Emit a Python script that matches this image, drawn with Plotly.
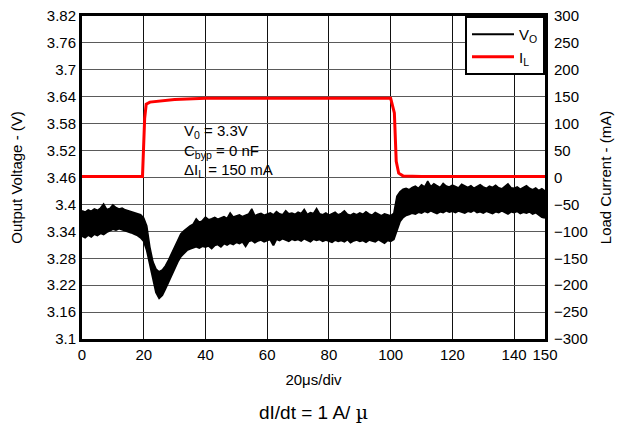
import plotly.graph_objects as go

# Time axis (20 us/div) and output-voltage band
t_vo = list(range(0, 151))
vo_upper = [
    3.386, 3.383, 3.388, 3.385, 3.390, 3.387, 3.392, 3.401, 3.389, 3.391,
    3.399, 3.393, 3.390, 3.392, 3.388, 3.386, 3.384, 3.381, 3.379, 3.377,
    3.370, 3.352, 3.305, 3.272, 3.256, 3.250, 3.254, 3.263, 3.276, 3.290,
    3.306, 3.321, 3.334, 3.341, 3.347, 3.352, 3.356, 3.368, 3.360, 3.364,
    3.372, 3.366, 3.368, 3.371, 3.367, 3.370, 3.373, 3.369, 3.381, 3.372,
    3.374, 3.377, 3.373, 3.376, 3.379, 3.390, 3.375, 3.378, 3.380, 3.376,
    3.378, 3.381, 3.377, 3.384, 3.379, 3.377, 3.386, 3.379, 3.381, 3.378,
    3.383, 3.380, 3.389, 3.378, 3.382, 3.380, 3.391, 3.379, 3.377, 3.381,
    3.376, 3.379, 3.383, 3.377, 3.380, 3.386, 3.378, 3.376, 3.380, 3.377,
    3.381, 3.378, 3.384, 3.379, 3.376, 3.382, 3.378, 3.375, 3.379, 3.377,
    3.375, 3.380, 3.418, 3.428, 3.434, 3.436, 3.433, 3.438, 3.441, 3.436,
    3.444, 3.439, 3.452, 3.440, 3.446, 3.442, 3.438, 3.447, 3.441, 3.439,
    3.443, 3.440, 3.437, 3.445, 3.441, 3.438, 3.442, 3.436, 3.440, 3.444,
    3.439, 3.436, 3.441, 3.438, 3.443, 3.437, 3.435, 3.440, 3.446, 3.437,
    3.436, 3.439, 3.434, 3.438, 3.442, 3.436, 3.433, 3.437, 3.431, 3.435,
    3.430,
]
vo_lower = [
    3.330, 3.326, 3.332, 3.328, 3.334, 3.331, 3.336, 3.333, 3.338, 3.342,
    3.345, 3.343, 3.346, 3.344, 3.342, 3.340, 3.337, 3.334, 3.331, 3.326,
    3.318, 3.298, 3.265, 3.232, 3.204, 3.191, 3.198, 3.212, 3.228, 3.243,
    3.258, 3.272, 3.284, 3.292, 3.298, 3.301, 3.304, 3.306, 3.303, 3.307,
    3.305, 3.308, 3.302, 3.309, 3.311, 3.306, 3.313, 3.310, 3.314, 3.311,
    3.316, 3.313, 3.317, 3.307, 3.318, 3.320, 3.315, 3.319, 3.321, 3.317,
    3.320, 3.322, 3.309, 3.323, 3.320, 3.324, 3.321, 3.318, 3.323, 3.320,
    3.322, 3.319, 3.324, 3.321, 3.317, 3.323, 3.320, 3.322, 3.318, 3.321,
    3.319, 3.316, 3.321, 3.318, 3.320, 3.317, 3.322, 3.315, 3.319, 3.321,
    3.318, 3.320, 3.316, 3.321, 3.319, 3.317, 3.322, 3.318, 3.314, 3.320,
    3.318, 3.322, 3.342, 3.362, 3.371, 3.376, 3.378, 3.381, 3.379, 3.383,
    3.381, 3.385, 3.382, 3.386, 3.383, 3.380, 3.384, 3.382, 3.386, 3.383,
    3.385, 3.382, 3.386, 3.384, 3.381, 3.385, 3.383, 3.387, 3.382, 3.384,
    3.381, 3.385, 3.383, 3.380, 3.384, 3.382, 3.386, 3.383, 3.379, 3.384,
    3.382, 3.385, 3.380, 3.383, 3.381, 3.384, 3.379, 3.382, 3.377, 3.372,
    3.370,
]

# Load current step (mA)
t_il = [0, 19.6, 20.3, 20.8, 22, 25, 30, 40, 100, 101.2, 101.8, 102.6, 104, 110, 150]
il_ma = [2, 2, 110, 136, 140, 142, 145, 147, 147, 120, 30, 8, 3, 2, 2]

# Axes
v_ticks = [3.1, 3.16, 3.22, 3.28, 3.34, 3.4, 3.46, 3.52, 3.58, 3.64, 3.7, 3.76, 3.82]
v_labels = ["3.1", "3.16", "3.22", "3.28", "3.34", "3.4", "3.46", "3.52",
            "3.58", "3.64", "3.7", "3.76", "3.82"]
i_ticks = [-300, -250, -200, -150, -100, -50, 0, 50, 100, 150, 200, 250, 300]
t_ticks = [0, 20, 40, 60, 80, 100, 120, 140, 150]

FONT = "Arial, Liberation Sans, sans-serif"

fig = go.Figure()

# V_O band: lower edge carries the legend entry, upper edge fills down to it
fig.add_trace(go.Scatter(
    x=t_vo, y=vo_lower, mode="lines", name="V<sub>O</sub>",
    line=dict(color="black", width=2),
))
fig.add_trace(go.Scatter(
    x=t_vo, y=vo_upper, mode="lines", showlegend=False,
    line=dict(color="black", width=1.5), fill="tonexty", fillcolor="black",
))
fig.add_trace(go.Scatter(
    x=t_il, y=il_ma, mode="lines", name="I<sub>L</sub>", yaxis="y2",
    line=dict(color="#ff0000", width=3),
))

fig.add_annotation(
    x=32.3, y=3.588, xref="x", yref="y", xanchor="left", yanchor="top",
    align="left", showarrow=False,
    text="V<sub>0</sub> = 3.3V<br>C<sub>byp</sub> = 0 nF<br>ΔI<sub>L</sub> = 150 mA",
    font=dict(family=FONT, size=15, color="black"),
)
fig.add_annotation(
    x=0.5, y=-0.185, xref="paper", yref="paper", xanchor="center", yanchor="top",
    showarrow=False,
    text='dI/dt = 1 A/ <span style="font-family:DejaVu Serif, serif">µ</span>',
    font=dict(family=FONT, size=19, color="black"),
)

# the page body adds an 8px margin, so the figure is 8px smaller and shifted
fig.update_layout(
    width=617, height=416,
    margin=dict(l=74, r=80, t=8, b=85, autoexpand=False),
    paper_bgcolor="white", plot_bgcolor="white",
    font=dict(family=FONT, size=15, color="black"),
    showlegend=True,
    legend=dict(
        x=1, y=1, xanchor="right", yanchor="top", traceorder="normal",
        bgcolor="white", bordercolor="black", borderwidth=2,
        font=dict(size=15), tracegroupgap=0, itemwidth=42,
    ),
    xaxis=dict(
        range=[0, 150], tickvals=t_ticks, showgrid=True, gridcolor="#111111",
        gridwidth=1, showline=True, linecolor="black", linewidth=3, mirror=True,
        zeroline=False, ticks="", automargin=False, ticklabeloverflow="allow",
        title=dict(text="20μs/div", font=dict(size=15), standoff=13),
    ),
    yaxis=dict(
        range=[3.1, 3.82], tickvals=v_ticks, ticktext=v_labels, showgrid=True,
        gridcolor="#5a5a5a", gridwidth=1, showline=True, linecolor="black",
        linewidth=3, mirror=True, zeroline=False, ticks="", automargin=False,
        ticklabeloverflow="allow",
        title=dict(text="Output Voltage - (V)", font=dict(size=15), standoff=21),
    ),
    yaxis2=dict(
        range=[-300, 300], tickvals=i_ticks, overlaying="y", side="right",
        showgrid=False, zeroline=False, ticks="", automargin=False,
        ticklabelstandoff=8, ticklabeloverflow="allow",
        title=dict(text="Load Current - (mA)", font=dict(size=15), standoff=13),
    ),
)

fig.write_html("out.html")
